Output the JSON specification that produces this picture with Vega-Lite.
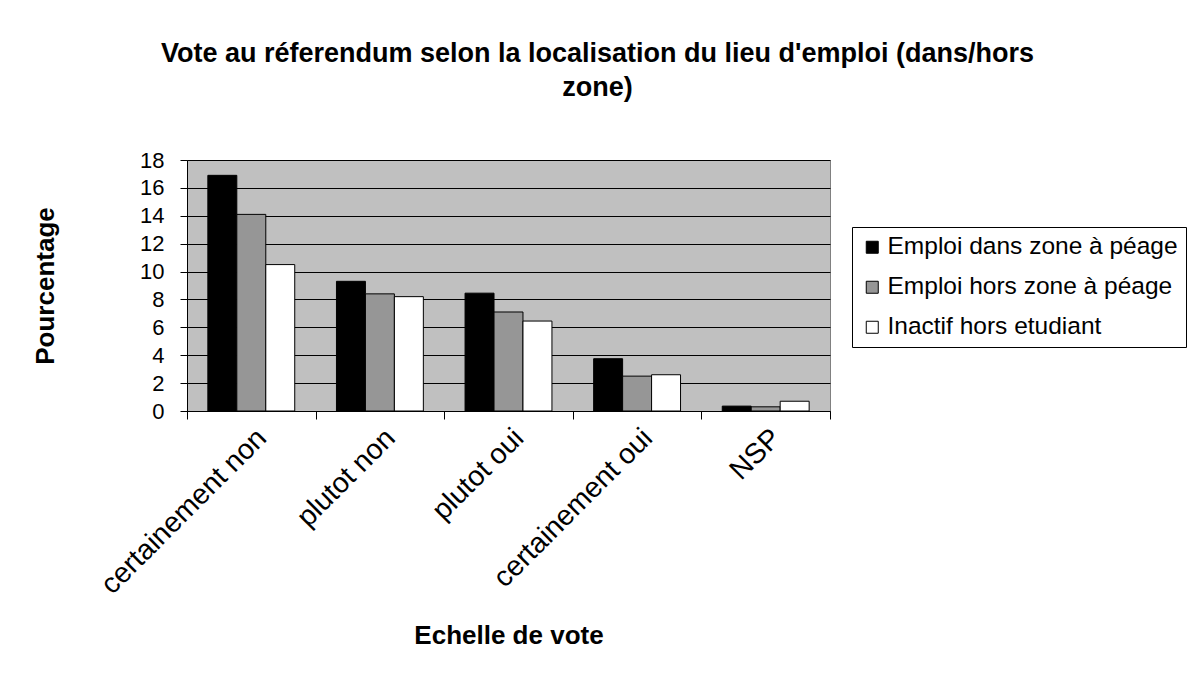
{
  "$schema": "https://vega.github.io/schema/vega-lite/v6.json",
  "width": 643,
  "height": 251,
  "autosize": "none",
  "padding": {"left": 187, "top": 160, "right": 363, "bottom": 266},
  "background": "white",
  "title": {
    "text": ["Vote au réferendum selon la localisation du lieu d'emploi (dans/hors", "zone)"],
    "font": "Liberation Sans",
    "fontSize": 27,
    "fontWeight": "bold",
    "color": "black",
    "anchor": "middle",
    "dx": 89,
    "offset": 47,
    "lineHeight": 34
  },
  "data": {
    "values": [
      {"vote": "certainement non", "statut": "Emploi dans zone à péage", "pct": 16.9},
      {"vote": "certainement non", "statut": "Emploi hors zone à péage", "pct": 14.1},
      {"vote": "certainement non", "statut": "Inactif hors etudiant", "pct": 10.5},
      {"vote": "plutot non", "statut": "Emploi dans zone à péage", "pct": 9.3},
      {"vote": "plutot non", "statut": "Emploi hors zone à péage", "pct": 8.4},
      {"vote": "plutot non", "statut": "Inactif hors etudiant", "pct": 8.2},
      {"vote": "plutot oui", "statut": "Emploi dans zone à péage", "pct": 8.45},
      {"vote": "plutot oui", "statut": "Emploi hors zone à péage", "pct": 7.1},
      {"vote": "plutot oui", "statut": "Inactif hors etudiant", "pct": 6.45},
      {"vote": "certainement oui", "statut": "Emploi dans zone à péage", "pct": 3.75},
      {"vote": "certainement oui", "statut": "Emploi hors zone à péage", "pct": 2.5},
      {"vote": "certainement oui", "statut": "Inactif hors etudiant", "pct": 2.6},
      {"vote": "NSP", "statut": "Emploi dans zone à péage", "pct": 0.35},
      {"vote": "NSP", "statut": "Emploi hors zone à péage", "pct": 0.3},
      {"vote": "NSP", "statut": "Inactif hors etudiant", "pct": 0.7}
    ]
  },
  "mark": {"type": "bar", "stroke": "black", "strokeWidth": 1},
  "encoding": {
    "x": {
      "field": "vote",
      "type": "nominal",
      "sort": ["certainement non", "plutot non", "plutot oui", "certainement oui", "NSP"],
      "scale": {"paddingInner": 0, "paddingOuter": 0},
      "axis": {
        "title": "Echelle de vote",
        "labelAngle": -45,
        "labelFontSize": 28.5,
        "tickBand": "extent",
        "tickSize": 8,
        "labelPadding": 4,
        "titlePadding": 24,
        "grid": false
      }
    },
    "xOffset": {
      "field": "statut",
      "type": "nominal",
      "sort": ["Emploi dans zone à péage", "Emploi hors zone à péage", "Inactif hors etudiant"],
      "scale": {"paddingInner": 0, "paddingOuter": 0.72}
    },
    "y": {
      "field": "pct",
      "type": "quantitative",
      "scale": {"domain": [0, 18], "nice": false},
      "axis": {
        "title": "Pourcentage",
        "values": [0, 2, 4, 6, 8, 10, 12, 14, 16, 18],
        "labelFontSize": 22,
        "tickSize": 7,
        "labelPadding": 16,
        "titlePadding": 81,
        "grid": true
      }
    },
    "color": {
      "field": "statut",
      "type": "nominal",
      "scale": {
        "domain": ["Emploi dans zone à péage", "Emploi hors zone à péage", "Inactif hors etudiant"],
        "range": ["#000000", "#969696", "#ffffff"]
      },
      "legend": {
        "title": null,
        "orient": "none",
        "legendX": 665,
        "legendY": 67,
        "padding": 8,
        "strokeColor": "black",
        "fillColor": "white",
        "symbolType": "square",
        "symbolSize": 144,
        "symbolStrokeColor": "black",
        "symbolStrokeWidth": 1,
        "symbolOpacity": 1,
        "labelFont": "Liberation Sans",
        "labelFontSize": 24.5,
        "labelColor": "black",
        "labelOffset": 3,
        "rowPadding": 15,
        "labelLimit": 400
      }
    }
  },
  "config": {
    "view": {"fill": "#C0C0C0", "stroke": "#808080", "strokeWidth": 1},
    "axis": {
      "labelFont": "Liberation Sans",
      "labelColor": "black",
      "titleFont": "Liberation Sans",
      "titleFontSize": 26,
      "titleFontWeight": "bold",
      "titleColor": "black",
      "domainColor": "black",
      "tickColor": "black",
      "gridColor": "black",
      "gridOpacity": 1,
      "gridWidth": 1,
      "labelLimit": 400
    }
  }
}
